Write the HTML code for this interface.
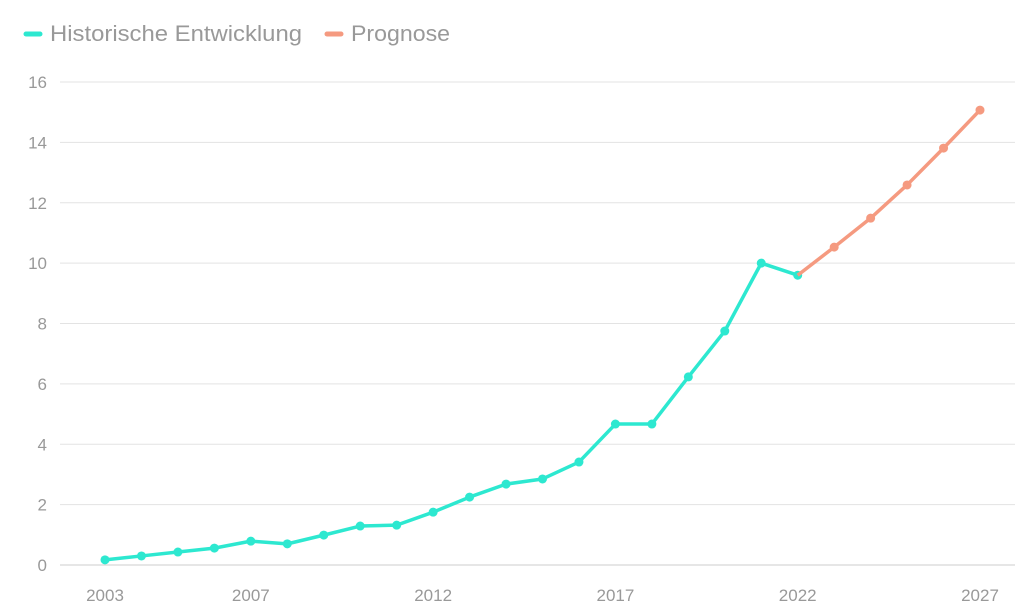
<!DOCTYPE html>
<html><head><meta charset="utf-8"><style>
body{margin:0;background:#fff;width:1024px;height:608px;overflow:hidden;font-family:"Liberation Sans",sans-serif}
svg text{font-family:"Liberation Sans",sans-serif;fill:#999}
</style></head><body>
<svg id="chart" width="1024" height="608" xmlns="http://www.w3.org/2000/svg">
<g>
<g>
<line x1="26" y1="34" x2="40" y2="34" stroke="#2de8d0" stroke-width="5" stroke-linecap="round"/>
<text x="50" y="41" font-size="22" textLength="252" lengthAdjust="spacingAndGlyphs">Historische Entwicklung</text></g>
<g>
<line x1="327" y1="34" x2="341" y2="34" stroke="#f59a80" stroke-width="5" stroke-linecap="round"/>
<text x="351" y="41" font-size="22" textLength="99" lengthAdjust="spacingAndGlyphs">Prognose</text></g>
</g>
<g id="grid"></g>
<g id="yticks"></g>
<g id="xticks"></g>
<g id="series"></g>
</svg>
<script>
const histYears=[2003,2004,2005,2006,2007,2008,2009,2010,2011,2012,2013,2014,2015,2016,2017,2018,2019,2020,2021,2022];
const histValues=[0.17,0.3,0.43,0.56,0.79,0.7,0.99,1.29,1.32,1.75,2.25,2.68,2.85,3.41,4.67,4.67,6.23,7.75,10.0,9.6];
const fcYears=[2022,2023,2024,2025,2026,2027];
const fcValues=[9.6,10.53,11.49,12.59,13.81,15.07];
const yTicks=[0,2,4,6,8,10,12,14,16];
const xTicks=[2003,2007,2012,2017,2022,2027];
const NS="http://www.w3.org/2000/svg";
const xS=y=>105+(y-2003)*(980-105)/24;
const yS=v=>565-v*(565-82)/16;
function mk(tag,attrs,parent){const e=document.createElementNS(NS,tag);for(const k in attrs)e.setAttribute(k,attrs[k]);parent.appendChild(e);return e;}
const grid=document.getElementById('grid'),yt=document.getElementById('yticks'),xt=document.getElementById('xticks'),ser=document.getElementById('series');
yTicks.forEach(t=>{
 const l=mk('line',{x1:60,x2:1015,y1:yS(t),y2:yS(t),stroke:t===0?'#ccc':'#e3e3e3','stroke-width':1},grid);
 
 
 const tx=mk('text',{x:47,y:yS(t)+6,'text-anchor':'end','font-size':17},yt);
 tx.textContent=t;
 
 
});
xTicks.forEach(t=>{
 const tx=mk('text',{x:xS(t),y:601,'text-anchor':'middle','font-size':17},xt);
 tx.textContent=t;
 
 
});
function draw(years,vals,color,name){
 const p=mk('polyline',{points:years.map((y,i)=>xS(y)+','+yS(vals[i])).join(' '),fill:'none',stroke:color,'stroke-width':3.5,'stroke-linejoin':'round'},ser);
 
 
 years.forEach((y,i)=>{
  const c=mk('circle',{cx:xS(y),cy:yS(vals[i]),r:4.5,fill:color},ser);
  
  
 });
}
draw(histYears,histValues,'#2de8d0','historical');
draw(fcYears.slice(1),fcValues.slice(1),'#f59a80','forecast');
const fl=ser.querySelectorAll('polyline')[1];
fl.setAttribute('points',fcYears.map((y,i)=>xS(y)+','+yS(fcValues[i])).join(' '));
</script>
</body></html>
